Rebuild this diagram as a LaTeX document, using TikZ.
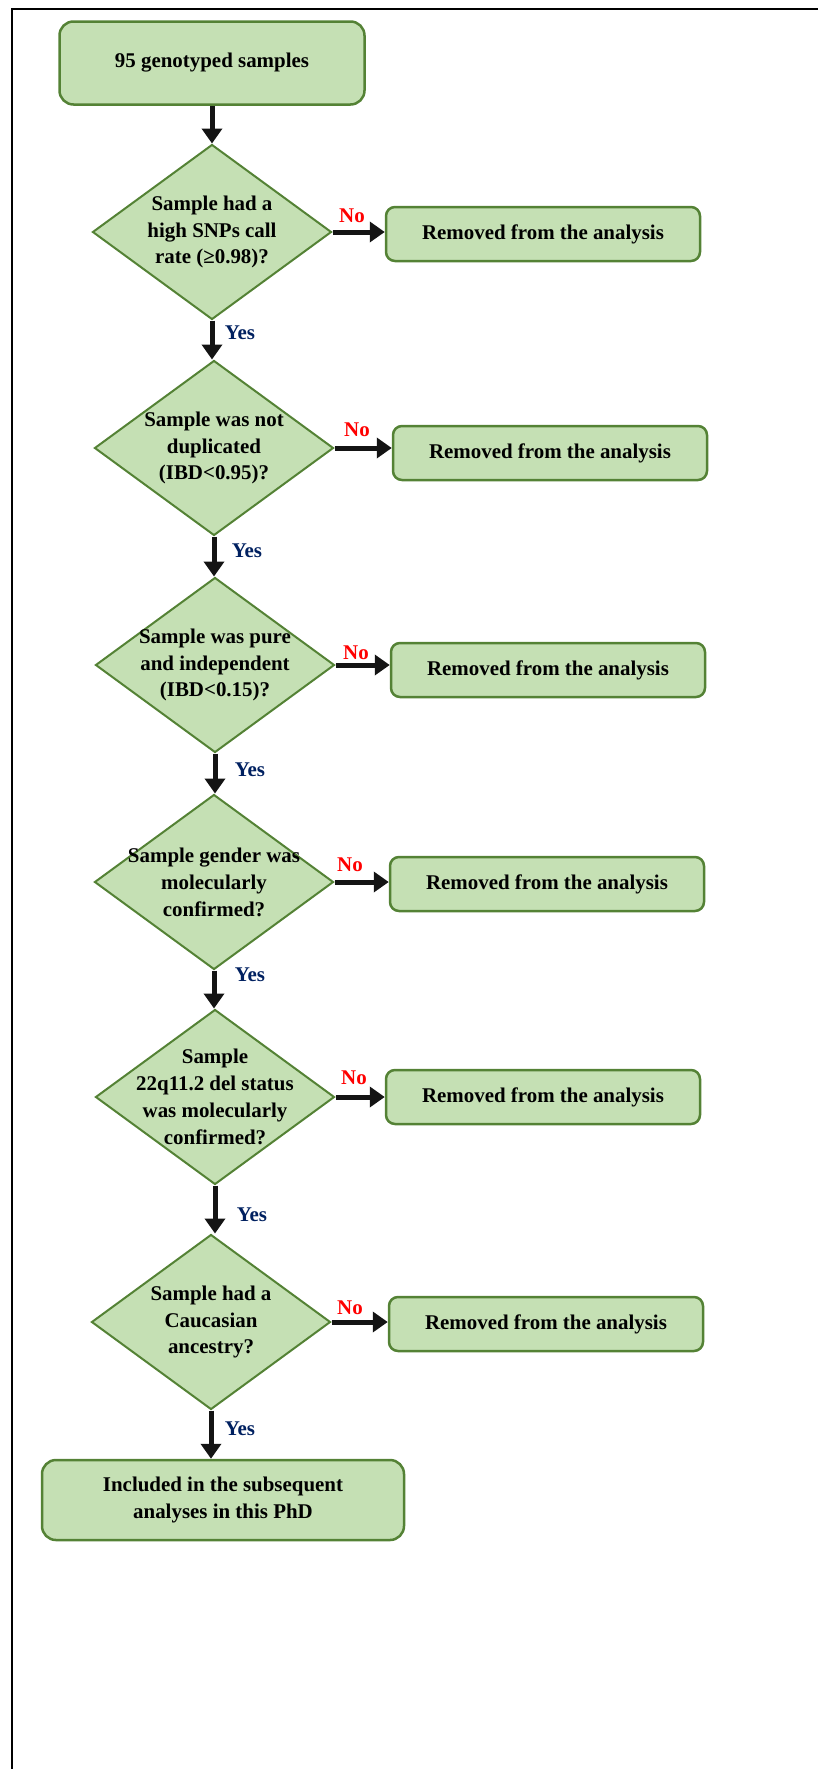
\documentclass[tikz,border=0pt]{standalone}
\usepackage{fontspec}
\setmainfont{Liberation Serif}
\usetikzlibrary{shapes,arrows.meta}
\definecolor{boxfill}{HTML}{C5E0B4}
\definecolor{boxline}{HTML}{548235}
\definecolor{yesblue}{HTML}{002060}

\begin{document}
\begin{tikzpicture}[
  font=\fontsize{21}{27}\selectfont\bfseries,
  box/.style={draw=boxline,fill=boxfill,line width=2.5bp,rounded corners=14bp,align=center},
  rem/.style={box,rounded corners=9bp,minimum width=314bp,minimum height=54bp},
  dec/.style={draw=boxline,fill=boxfill,line width=2bp,diamond,minimum width=239bp,minimum height=175bp,inner sep=0pt},
  dectext/.style={align=center},
  flow/.style={-{Triangle[length=15bp,width=20bp]},line width=5bp,draw=black!92},
  yes/.style={text=yesblue},
  no/.style={text=red},
]
\useasboundingbox (0bp,0bp) rectangle (818bp,-1769bp);
\draw [line width=2.5bp] (12bp,-1769bp) -- (12bp,-9bp) -- (818bp,-9bp);

\node (T) at (212bp,-63bp)[box,minimum width=305bp,minimum height=83bp] {95 genotyped samples};

\node (D1) at (212bp,-232bp)[dec] {};
\node (D2) at (214bp,-448bp)[dec] {};
\node (D3) at (215bp,-665bp)[dec] {};
\node (D4) at (214bp,-882bp)[dec] {};
\node (D5) at (215bp,-1097bp)[dec] {};
\node (D6) at (211bp,-1322bp)[dec] {};
\node (D1t) at (D1)[dectext] {Sample had a\\high SNPs call\\rate (≥0.98)?};
\node (D2t) at (D2)[dectext] {Sample was not\\duplicated\\(IBD<0.95)?};
\node (D3t) at (D3)[dectext] {Sample was pure\\and independent\\(IBD<0.15)?};
\node (D4t) at (D4)[dectext] {Sample gender was\\molecularly\\confirmed?};
\node (D5t) at (D5)[dectext] {Sample\\22q11.2 del status\\was molecularly\\confirmed?};
\node (D6t) at (D6)[dectext] {Sample had a\\Caucasian\\ancestry?};

\node (R1) at (543bp,-234bp)[rem] {Removed from the analysis};
\node (R2) at (550bp,-453bp)[rem] {Removed from the analysis};
\node (R3) at (548bp,-670bp)[rem] {Removed from the analysis};
\node (R4) at (547bp,-884bp)[rem] {Removed from the analysis};
\node (R5) at (543bp,-1097bp)[rem] {Removed from the analysis};
\node (R6) at (546bp,-1324bp)[rem] {Removed from the analysis};

\node (B) at (223bp,-1500bp)[box,minimum width=362bp,minimum height=80bp] {Included in the subsequent\\analyses in this PhD};

\draw [flow] (T) -- (T.south |- D1.north);
\draw [flow] (D1) -- (D1.south |- D2.north);
\draw [flow] (D2) -- (D2.south |- D3.north);
\draw [flow] (D3) -- (D3.south |- D4.north);
\draw [flow] (D4) -- (D4.south |- D5.north);
\draw [flow] (D5) -- (D5.south |- D6.north);
\draw [flow] (D6) -- (D6.south |- B.north);
\draw [flow] (D1.east) -- (D1.east -| R1.west);
\draw [flow] (D2.east) -- (D2.east -| R2.west);
\draw [flow] (D3.east) -- (D3.east -| R3.west);
\draw [flow] (D4.east) -- (D4.east -| R4.west);
\draw [flow] (D5.east) -- (D5.east -| R5.west);
\draw [flow] (D6.east) -- (D6.east -| R6.west);

\node (N1) at (352bp,-216bp)[no] {No};
\node (N2) at (357bp,-430bp)[no] {No};
\node (N3) at (356bp,-653bp)[no] {No};
\node (N4) at (350bp,-865bp)[no] {No};
\node (N5) at (354bp,-1078bp)[no] {No};
\node (N6) at (350bp,-1308bp)[no] {No};
\node (Y1) at (240bp,-333bp)[yes] {Yes};
\node (Y2) at (247bp,-551bp)[yes] {Yes};
\node (Y3) at (250bp,-770bp)[yes] {Yes};
\node (Y4) at (250bp,-975bp)[yes] {Yes};
\node (Y5) at (252bp,-1215bp)[yes] {Yes};
\node (Y6) at (240bp,-1429bp)[yes] {Yes};
\end{tikzpicture}
\end{document}
